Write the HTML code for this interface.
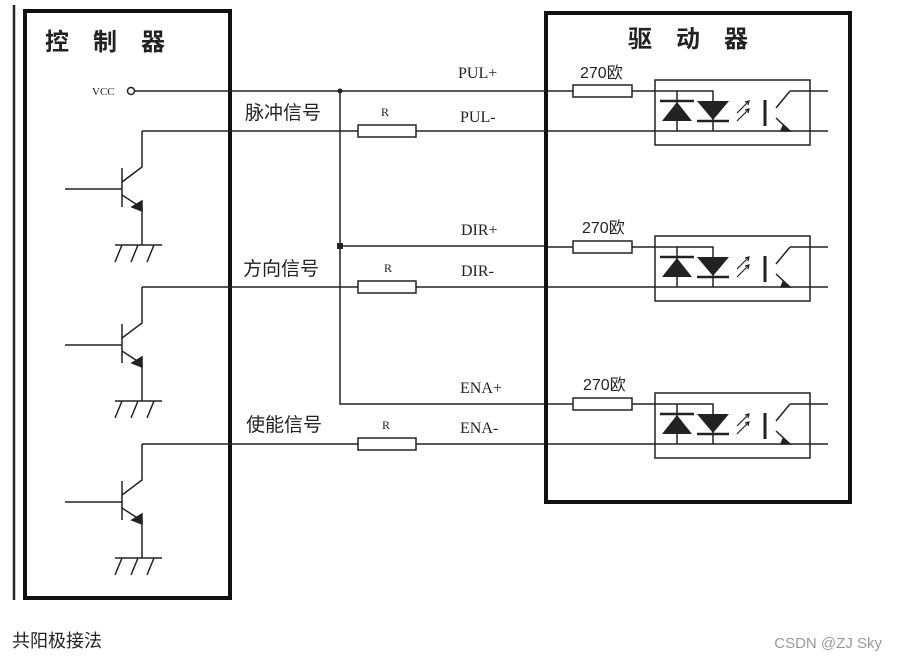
<!DOCTYPE html>
<html><head><meta charset="utf-8"><style>
html,body{margin:0;padding:0;background:#fff;width:898px;height:663px;overflow:hidden}
svg{display:block}
.t{font-family:"Liberation Serif","Noto Serif CJK SC",serif;fill:#222}
.c{font-family:"Liberation Sans","Noto Sans CJK SC",sans-serif;fill:#222}
</style></head><body>
<svg width="898" height="663" viewBox="0 0 898 663" xmlns="http://www.w3.org/2000/svg">
<defs>
<g id="blk" stroke="#222" stroke-width="1.5" fill="none">
  <!-- transistor -->
  <path d="M142 131V167L122 182M122 168V207M65 189H122M122 195L142 208V245"/>
  <path d="M132 207L142 201V211Z" fill="#222"/>
  <path d="M115 245H162M122 245L115 262M138 245L131 262M154 245L147 262"/>
  <!-- minus line with R -->
  <path d="M142 131H358M416 131H545"/>
  <rect x="358" y="125" width="58" height="12" fill="#fff"/>
  <!-- driver side -->
  <path d="M548 91H573M632 91H713V131M548 131H828M677 91V131M790 91H828M776 108L790 91M776 118L790 131"/>
  <rect x="573" y="85" width="59" height="12" fill="#fff"/>
  <rect x="655" y="80" width="155" height="65"/>
  <path d="M662 121H692L677 102Z" fill="#222" stroke="none"/>
  <path d="M660 101H694M697 121H729" stroke-width="2.5"/>
  <path d="M697 101H729L713 120Z" fill="#222" stroke="none"/>
  <path d="M737 113L748 102M737 121L748 110" stroke-width="1.2"/>
  <path d="M745 102L749 101L748 105M745 110L749 109L748 113" stroke-width="1.2"/>
  <path d="M765 100V126" stroke-width="3"/>
  <path d="M783 126L790 131L781 131Z" fill="#222"/>
</g>
</defs>
<line x1="14" y1="5" x2="14" y2="600" stroke="#222" stroke-width="2.5"/>
<rect x="25" y="11" width="205" height="587" fill="none" stroke="#111" stroke-width="4"/>
<rect x="546" y="13" width="304" height="489" fill="none" stroke="#111" stroke-width="4"/>
<text x="45" y="50" class="c" font-size="24" font-weight="bold">控　制　器</text>
<text x="628" y="47" class="c" font-size="24" font-weight="bold">驱　动　器</text>
<g stroke="#222" stroke-width="1.5" fill="none">
<circle cx="131" cy="91" r="3.5"/>
<path d="M135 91H545M340 91V404H545M340 246H545"/>
</g>
<circle cx="340" cy="91" r="2.5" fill="#222"/>
<rect x="337" y="243" width="6" height="6" fill="#222"/>
<text x="92" y="95" class="t" font-size="11">VCC</text>
<use href="#blk"/>
<use href="#blk" transform="translate(0,156)"/>
<use href="#blk" transform="translate(0,313)"/>
<g class="c" font-size="19">
<text x="245" y="119">脉冲信号</text>
<text x="243" y="275">方向信号</text>
<text x="246" y="431">使能信号</text>
</g>
<g class="t" font-size="16">
<text x="458" y="78">PUL+</text><text x="460" y="122">PUL-</text>
<text x="461" y="235">DIR+</text><text x="461" y="276">DIR-</text>
<text x="460" y="393">ENA+</text><text x="460" y="433">ENA-</text>
</g>
<g class="t" font-size="12">
<text x="381" y="116">R</text><text x="384" y="272">R</text><text x="382" y="429">R</text>
</g>
<g class="c" font-size="16">
<text x="580" y="78">270欧</text><text x="582" y="233">270欧</text><text x="583" y="390">270欧</text>
</g>
<text x="12" y="647" class="c" font-size="18">共阳极接法</text>
<text x="882" y="648" text-anchor="end" font-family="Liberation Sans,sans-serif" font-size="15" fill="#999">CSDN @ZJ Sky</text>
</svg>
</body></html>
